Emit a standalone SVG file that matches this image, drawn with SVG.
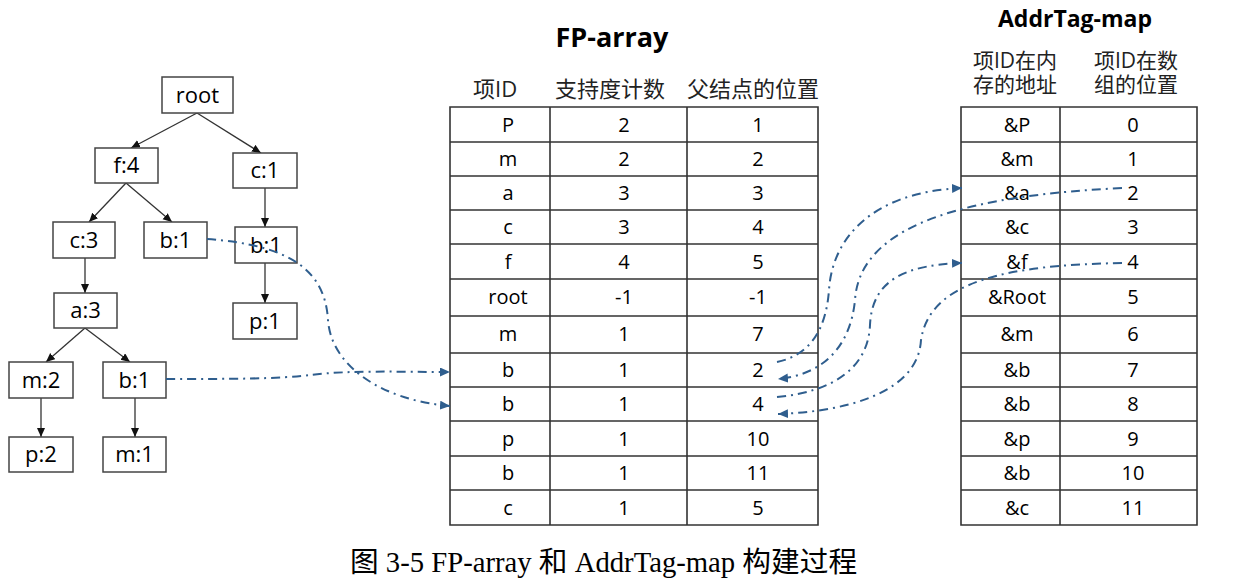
<svg xmlns="http://www.w3.org/2000/svg" width="1252" height="587" viewBox="0 0 1252 587">
<style>
.bg{fill:#fff}
.node rect{fill:#fff;stroke:#444;stroke-width:1.5}
.node text,.cell{font-family:"Open Sans","Liberation Sans",sans-serif;fill:#000;text-anchor:middle}
.node text{font-size:22px}
.cell{font-size:20px}
.edge{stroke:#333;stroke-width:1.3;fill:none}
.link{stroke:#2F5E8E;stroke-width:2;fill:none;stroke-dasharray:9 5 2 5}
.grid{stroke:#333;stroke-width:1.6;fill:none}
.hdr{font-family:"Open Sans","Noto Sans CJK SC",sans-serif;font-size:22px;fill:#222}
.hdr2{font-family:"Open Sans","Noto Sans CJK SC",sans-serif;font-size:21px;fill:#222}
.title{font-family:"Open Sans","Liberation Sans",sans-serif;font-weight:bold;fill:#000;text-anchor:middle}
.cap{font-family:"Liberation Serif","Noto Sans CJK SC",serif;font-size:28.7px;fill:#000}
</style>
<defs>
<marker id="ah" markerUnits="userSpaceOnUse" markerWidth="10" markerHeight="10" refX="9" refY="4" orient="auto">
<path d="M0,0 L9,4 L0,8 Z" fill="#111"/>
</marker>
<marker id="bh" markerUnits="userSpaceOnUse" markerWidth="11" markerHeight="10" refX="10" refY="4.5" orient="auto">
<path d="M0,0 L10,4.5 L0,9 Z" fill="#2F5E8E"/>
</marker>
</defs>
<rect class="bg" x="0" y="0" width="1252" height="587"/>

<g id="edges">
<line class="edge" x1="197" y1="113" x2="131" y2="148" marker-end="url(#ah)"/>
<line class="edge" x1="197" y1="113" x2="261" y2="153" marker-end="url(#ah)"/>
<line class="edge" x1="126" y1="183" x2="89" y2="222" marker-end="url(#ah)"/>
<line class="edge" x1="126" y1="183" x2="172" y2="222" marker-end="url(#ah)"/>
<line class="edge" x1="265" y1="188" x2="265" y2="227" marker-end="url(#ah)"/>
<line class="edge" x1="85" y1="258" x2="85" y2="293" marker-end="url(#ah)"/>
<line class="edge" x1="265" y1="263" x2="265" y2="303" marker-end="url(#ah)"/>
<line class="edge" x1="85" y1="328" x2="46" y2="362" marker-end="url(#ah)"/>
<line class="edge" x1="85" y1="328" x2="130" y2="362" marker-end="url(#ah)"/>
<line class="edge" x1="41" y1="398" x2="41" y2="437" marker-end="url(#ah)"/>
<line class="edge" x1="135" y1="398" x2="135" y2="437" marker-end="url(#ah)"/>
</g>

<g id="n-root" class="node"><rect x="162" y="77" width="71" height="36"/><text x="197.5" y="103">root</text></g>
<g id="n-f4" class="node"><rect x="95" y="148" width="63" height="35"/><text x="126.5" y="173">f:4</text></g>
<g id="n-c1" class="node"><rect x="233" y="153" width="64" height="35"/><text x="265" y="178">c:1</text></g>
<g id="n-c3" class="node"><rect x="53" y="222" width="62" height="36"/><text x="84" y="248">c:3</text></g>
<g id="n-b1a" class="node"><rect x="144" y="222" width="63" height="36"/><text x="175.5" y="248">b:1</text></g>
<g id="n-b1b" class="node"><rect x="235" y="227" width="62" height="36"/><text x="266" y="253">b:1</text></g>
<g id="n-a3" class="node"><rect x="54" y="293" width="63" height="35"/><text x="85.5" y="318">a:3</text></g>
<g id="n-p1" class="node"><rect x="233" y="303" width="64" height="36"/><text x="265" y="329">p:1</text></g>
<g id="n-m2" class="node"><rect x="9" y="362" width="64" height="36"/><text x="41" y="388">m:2</text></g>
<g id="n-b1c" class="node"><rect x="103" y="362" width="63" height="36"/><text x="134.5" y="388">b:1</text></g>
<g id="n-p2" class="node"><rect x="9" y="437" width="64" height="35"/><text x="41" y="462">p:2</text></g>
<g id="n-m1" class="node"><rect x="103" y="437" width="63" height="35"/><text x="134.5" y="462">m:1</text></g>

<g id="fp-array">
<text class="title" x="612" y="47" font-size="27">FP-array</text>
<text class="hdr" x="473" y="97">项ID</text>
<text class="hdr" x="555" y="97">支持度计数</text>
<text class="hdr" x="687" y="97">父结点的位置</text>
<path class="grid" d="M450,107 H818 V525 H450 Z M550,107 V525 M687,107 V525 M450,142 H818 M450,176 H818 M450,210 H818 M450,244 H818 M450,279 H818 M450,316 H818 M450,353 H818 M450,387 H818 M450,421 H818 M450,456 H818 M450,490 H818"/>
<g class="cell">
<text x="508" y="132">P</text><text x="624" y="132">2</text><text x="758" y="132">1</text>
<text x="508" y="166">m</text><text x="624" y="166">2</text><text x="758" y="166">2</text>
<text x="508" y="200">a</text><text x="624" y="200">3</text><text x="758" y="200">3</text>
<text x="508" y="234">c</text><text x="624" y="234">3</text><text x="758" y="234">4</text>
<text x="508" y="269">f</text><text x="624" y="269">4</text><text x="758" y="269">5</text>
<text x="508" y="304">root</text><text x="624" y="304">-1</text><text x="758" y="304">-1</text>
<text x="508" y="341">m</text><text x="624" y="341">1</text><text x="758" y="341">7</text>
<text x="508" y="377">b</text><text x="624" y="377">1</text><text x="758" y="377">2</text>
<text x="508" y="411">b</text><text x="624" y="411">1</text><text x="758" y="411">4</text>
<text x="508" y="446">p</text><text x="624" y="446">1</text><text x="758" y="446">10</text>
<text x="508" y="480">b</text><text x="624" y="480">1</text><text x="758" y="480">11</text>
<text x="508" y="515">c</text><text x="624" y="515">1</text><text x="758" y="515">5</text>
</g>
</g>

<g id="addrtag-map">
<text class="title" x="1075" y="27" font-size="23">AddrTag-map</text>
<text class="hdr2"><tspan x="973" y="68">项ID在内</tspan><tspan x="973" y="92">存的地址</tspan></text>
<text class="hdr2"><tspan x="1094" y="68">项ID在数</tspan><tspan x="1094" y="92">组的位置</tspan></text>
<path class="grid" d="M961,107 H1197 V525 H961 Z M1060,107 V525 M961,142 H1197 M961,176 H1197 M961,210 H1197 M961,244 H1197 M961,279 H1197 M961,316 H1197 M961,353 H1197 M961,387 H1197 M961,421 H1197 M961,456 H1197 M961,490 H1197"/>
<g class="cell">
<text x="1017" y="132">&amp;P</text><text x="1133" y="132">0</text>
<text x="1017" y="166">&amp;m</text><text x="1133" y="166">1</text>
<text x="1017" y="200">&amp;a</text><text x="1133" y="200">2</text>
<text x="1017" y="234">&amp;c</text><text x="1133" y="234">3</text>
<text x="1017" y="269">&amp;f</text><text x="1133" y="269">4</text>
<text x="1017" y="304">&amp;Root</text><text x="1133" y="304">5</text>
<text x="1017" y="341">&amp;m</text><text x="1133" y="341">6</text>
<text x="1017" y="377">&amp;b</text><text x="1133" y="377">7</text>
<text x="1017" y="411">&amp;b</text><text x="1133" y="411">8</text>
<text x="1017" y="446">&amp;p</text><text x="1133" y="446">9</text>
<text x="1017" y="480">&amp;b</text><text x="1133" y="480">10</text>
<text x="1017" y="515">&amp;c</text><text x="1133" y="515">11</text>
</g>
</g>

<g id="connectors">
<path class="link" d="M207,239 C290,245 325,270 328,320 C331,365 380,400 450,406" marker-end="url(#bh)"/>
<path class="link" d="M166,379 C230,379 280,379 310,375 C350,370 400,372 450,372" marker-end="url(#bh)"/>
<path class="link" d="M777,362 C810,355 826,330 829,290 C832,240 870,192 962,188" marker-end="url(#bh)"/>
<path class="link" d="M1122,188 C980,195 860,220 855,300 C850,350 820,375 778,379" marker-end="url(#bh)"/>
<path class="link" d="M777,397 C830,392 868,370 870,325 C872,280 905,265 962,263" marker-end="url(#bh)"/>
<path class="link" d="M1122,263 C1010,265 930,280 921,340 C918,395 840,412 778,414" marker-end="url(#bh)"/>
</g>

<text class="cap" x="350" y="572">图 3-5 FP-array 和 AddrTag-map 构建过程</text>
</svg>
